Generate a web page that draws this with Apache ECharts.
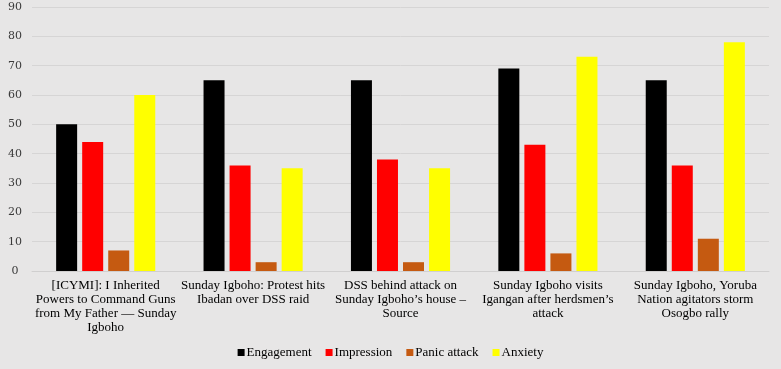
<!DOCTYPE html>
<html><head><meta charset="utf-8">
<script src="https://cdn.jsdelivr.net/npm/echarts@6/dist/echarts.min.js"></script>
<style>html,body{margin:0;padding:0;background:#e7e6e6;}#c{width:781px;height:369px;}</style>
</head><body><div id="c"></div>
<script>
const categories = [
  "[ICYMI]: I Inherited\nPowers to Command Guns\nfrom My Father — Sunday\nIgboho",
  "Sunday Igboho: Protest hits\nIbadan over DSS raid",
  "DSS behind attack on\nSunday Igboho’s house –\nSource",
  "Sunday Igboho visits\nIgangan after herdsmen’s\nattack",
  "Sunday Igboho, Yoruba\nNation agitators storm\nOsogbo rally"
];
const engagement = [50, 65, 65, 69, 65];
const impression = [44, 36, 38, 43, 36];
const panicAttack = [7, 3, 3, 6, 11];
const anxiety = [60, 35, 35, 73, 78];
const seriesNames = ["Engagement", "Impression", "Panic attack", "Anxiety"];
const colors = ["#000000", "#ff0000", "#c55a11", "#ffff00"];

const chart = echarts.init(document.getElementById('c'));
const font = '"Liberation Serif", serif';
const mk = (name, data, i) => ({
  name, type: 'bar', data, barWidth: 21, barGap: '24%',
  itemStyle: { color: colors[i] }
});
chart.setOption({
  backgroundColor: '#e7e6e6',
  animation: false,
  grid: { left: 32, right: 12, top: 7, bottom: 98 },
  legend: {
    bottom: 5, left: 'center', itemWidth: 7, itemHeight: 7, itemGap: 14,
    icon: 'rect',
    textStyle: { fontFamily: font, fontSize: 13, color: '#000', padding: [0, 0, 0, -3] },
    data: seriesNames
  },
  xAxis: {
    type: 'category', data: categories,
    axisTick: { show: false },
    axisLine: { lineStyle: { color: '#d0cfcf' } },
    axisLabel: { interval: 0, fontFamily: font, fontSize: 13, color: '#000', lineHeight: 14, margin: 8 }
  },
  yAxis: {
    type: 'value', min: 0, max: 90, interval: 10,
    axisLabel: { fontFamily: '"DejaVu Serif", serif', fontSize: 11, color: '#3a3a3a', margin: 17, align: 'center' },
    splitLine: { lineStyle: { color: '#d6d5d5' } }
  },
  series: [mk(seriesNames[0], engagement, 0), mk(seriesNames[1], impression, 1), mk(seriesNames[2], panicAttack, 2), mk(seriesNames[3], anxiety, 3)]
});
</script></body></html>
